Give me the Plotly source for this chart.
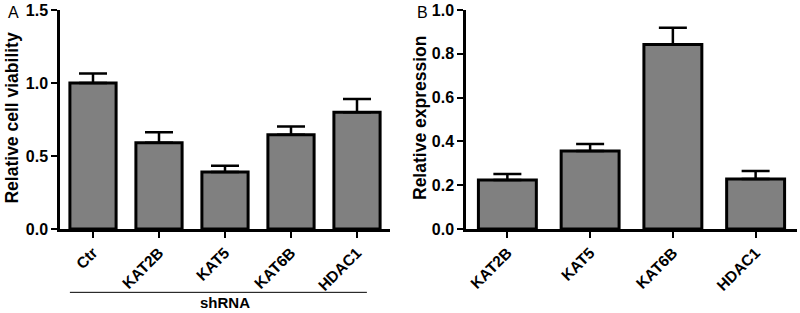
import plotly.graph_objects as go

# panel A - shRNA knockdown, relative cell viability
a_labels = ['Ctr', 'KAT2B', 'KAT5', 'KAT6B', 'HDAC1']
a_values = [1.0, 0.59, 0.39, 0.645, 0.80]
a_err = [0.065, 0.072, 0.043, 0.057, 0.09]

# panel B - relative expression
b_labels = ['KAT2B', 'KAT5', 'KAT6B', 'HDAC1']
b_values = [0.224, 0.356, 0.842, 0.228]
b_err = [0.027, 0.032, 0.077, 0.037]

font = 'Arial, Liberation Sans, sans-serif'
bar_fill = '#808080'

fig = go.Figure()

fig.add_trace(go.Bar(
    x=a_labels, y=a_values, width=0.7,
    marker=dict(color=bar_fill, line=dict(color='black', width=3)),
    error_y=dict(type='data', array=a_err, arrayminus=[0]*len(a_err), symmetric=False,
                 color='black', thickness=2.5, width=14),
    xaxis='x', yaxis='y', showlegend=False))

fig.add_trace(go.Bar(
    x=b_labels, y=b_values, width=0.7,
    marker=dict(color=bar_fill, line=dict(color='black', width=3)),
    error_y=dict(type='data', array=b_err, arrayminus=[0]*len(b_err), symmetric=False,
                 color='black', thickness=2.5, width=14),
    xaxis='x2', yaxis='y2', showlegend=False))

xcommon = dict(type='category', showline=True, linecolor='black', linewidth=2.5,
               ticks='outside', ticklen=6, tickwidth=2, tickcolor='black',
               tickangle=-45, showgrid=False, zeroline=False, automargin=False,
               tickfont=dict(family=font, size=15.5, color='black', weight='bold'))
ycommon = dict(showline=True, linecolor='black', linewidth=2.5,
               ticks='outside', ticklen=6, tickwidth=2, tickcolor='black',
               showgrid=False, zeroline=False, automargin=False, domain=[0.2684, 0.968],
               tickfont=dict(family=font, size=16, color='black', weight='bold'))

fig.update_layout(
    width=800, height=313,
    margin=dict(l=0, r=0, t=0, b=0),
    paper_bgcolor='white', plot_bgcolor='white',
    bargap=0.3,
    xaxis=dict(xcommon, domain=[0.075, 0.4875], range=[-0.5, 4.5], anchor='y'),
    yaxis=dict(ycommon, range=[0, 1.5], tickvals=[0, 0.5, 1.0, 1.5], ticktext=['0.0', '0.5', '1.0', '1.5'],
               anchor='x'),
    xaxis2=dict(xcommon, domain=[0.5825, 0.99625], range=[-0.5, 3.5], anchor='y2'),
    yaxis2=dict(ycommon, range=[0, 1.0], tickvals=[0, 0.2, 0.4, 0.6, 0.8, 1.0],
                ticktext=['0.0', '0.2', '0.4', '0.6', '0.8', '1.0'], anchor='x2'),
)

title_font = dict(family=font, size=17.5, color='black', weight='bold')
# y axis titles as rotated annotations so they sit where the original has them
fig.add_annotation(text='Relative cell viability', xref='paper', yref='paper', x=0.0144, y=0.623,
                   textangle=-90, showarrow=False, xanchor='center', yanchor='middle', font=title_font)
fig.add_annotation(text='Relative expression', xref='paper', yref='paper', x=0.525, y=0.623,
                   textangle=-90, showarrow=False, xanchor='center', yanchor='middle', font=title_font)

# shRNA bracket under panel A
fig.add_shape(type='line', xref='x', yref='paper', x0=-0.35, x1=4.15, y0=0.066, y1=0.066,
              line=dict(color='black', width=1))
fig.add_annotation(text='shRNA', xref='x', yref='paper', x=2, y=0.033, showarrow=False,
                   yanchor='middle', font=dict(family=font, size=15, color='black', weight='bold'))

# panel letters
fig.add_annotation(text='A', xref='paper', yref='paper', x=0.008, y=0.995, xanchor='left', yanchor='top',
                   showarrow=False, font=dict(family=font, size=16, color='black'))
fig.add_annotation(text='B', xref='paper', yref='paper', x=0.519, y=0.995, xanchor='left', yanchor='top',
                   showarrow=False, font=dict(family=font, size=16, color='black'))

fig.write_html('out.html', config={'displayModeBar': False},
               post_script="document.body.style.margin='0';")
